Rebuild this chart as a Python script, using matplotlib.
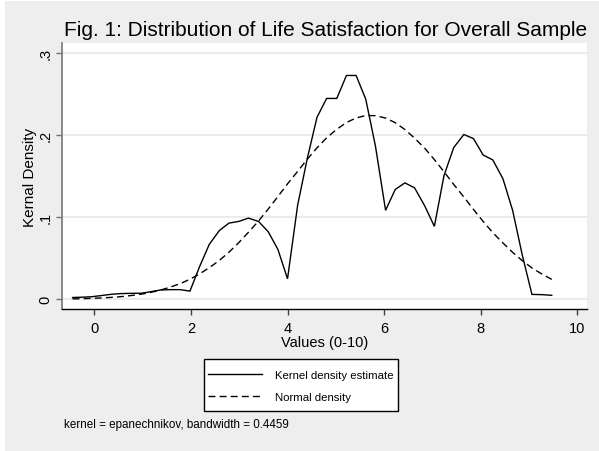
import matplotlib
matplotlib.use("Agg")
import matplotlib.pyplot as plt
from matplotlib.patches import Rectangle

plt.rcParams['font.family'] = ['Liberation Sans', 'DejaVu Sans']

title = "Fig. 1: Distribution of Life Satisfaction for Overall Sample"
xlabel = "Values (0-10)"
ylabel = "Kernal Density"
note = "kernel = epanechnikov, bandwidth = 0.4459"
legend_labels = ["Kernel density estimate", "Normal density"]
xticks = [0, 2, 4, 6, 8, 10]
xtick_labels = ["0", "2", "4", "6", "8", "10"]
yticks = [0, 0.1, 0.2, 0.3]
ytick_labels = ["0", ".1", ".2", ".3"]

# evaluation points
x_points = [-0.45, -0.25, -0.05, 0.16, 0.36, 0.56, 0.76, 0.97, 1.17, 1.37,
            1.57, 1.78, 1.98, 2.18, 2.38, 2.59, 2.79, 2.99, 3.19, 3.40,
            3.60, 3.80, 4.00, 4.21, 4.41, 4.61, 4.81, 5.02, 5.22, 5.42,
            5.62, 5.82, 6.03, 6.23, 6.43, 6.63, 6.84, 7.04, 7.24, 7.44,
            7.65, 7.85, 8.05, 8.25, 8.46, 8.66, 8.86, 9.06, 9.27, 9.47]

kernel_density = [0.0022, 0.0026, 0.0032, 0.0047, 0.0062, 0.0070, 0.0073, 0.0074, 0.0093, 0.0114,
                  0.0118, 0.0118, 0.0100, 0.0400, 0.0670, 0.0840, 0.0930, 0.0950, 0.0990, 0.0950,
                  0.0825, 0.0610, 0.0250, 0.1150, 0.1720, 0.2220, 0.2450, 0.2450, 0.2730, 0.2730,
                  0.2440, 0.1870, 0.1085, 0.1340, 0.1420, 0.1360, 0.1140, 0.0890, 0.1510, 0.1850,
                  0.2010, 0.1960, 0.1760, 0.1700, 0.1470, 0.1085, 0.0540, 0.0060, 0.0057, 0.0049]

normal_density = [0.0005, 0.0008, 0.0012, 0.0017, 0.0024, 0.0033, 0.0046, 0.0063, 0.0085, 0.0113,
                  0.0148, 0.0192, 0.0245, 0.0310, 0.0386, 0.0475, 0.0576, 0.0691, 0.0817, 0.0955,
                  0.1101, 0.1253, 0.1408, 0.1561, 0.1709, 0.1847, 0.1970, 0.2074, 0.2156, 0.2212,
                  0.2241, 0.2240, 0.2211, 0.2154, 0.2071, 0.1966, 0.1843, 0.1704, 0.1556, 0.1402,
                  0.1248, 0.1096, 0.0950, 0.0813, 0.0687, 0.0573, 0.0472, 0.0383, 0.0307, 0.0243]

W, H = 599, 452
fig = plt.figure(figsize=(W / 100, H / 100), dpi=100)
fig.patch.set_facecolor("white")
bg = Rectangle((5 / W, 0), 1 - 5 / W, 1 - 1.5 / H, transform=fig.transFigure,
               facecolor="#EEEEEE", edgecolor="none", zorder=-10)
fig.add_artist(bg)

ax = fig.add_axes([62 / W, 1 - 310 / H, (587 - 62) / W, (310 - 44) / H])
ax.set_zorder(1)
ax.set_facecolor("white")

ax.plot(x_points, kernel_density, color="black", lw=1.0, solid_joinstyle="miter",
        label=legend_labels[0], zorder=3)
ax.plot(x_points, normal_density, color="black", lw=1.0, dashes=(5, 3),
        label=legend_labels[1], zorder=3)

ax.set_xlim(-0.669, 10.2)
ax.set_ylim(-0.0118, 0.3126)

ax.set_xticks(xticks)
ax.set_xticklabels(xtick_labels, fontsize=10.5)
ax.set_yticks(yticks)
ax.set_yticklabels(ytick_labels, fontsize=10.5, rotation=90, va="center")

ax.yaxis.grid(True, color="#E6E6E6", lw=1.1)
ax.set_axisbelow(True)

for s in ["top", "right"]:
    ax.spines[s].set_visible(False)
ax.spines["left"].set_color("#808080")
ax.spines["left"].set_linewidth(1.3)
ax.spines["bottom"].set_color("black")
ax.spines["bottom"].set_linewidth(1.0)

ax.tick_params(axis="y", direction="out", length=4, width=1.0, color="#707070", pad=3)
ax.tick_params(axis="x", direction="out", length=4, width=1.0, color="#404040", pad=5)

ax.set_xlabel(xlabel, fontsize=10.5, labelpad=0)
ax.set_ylabel(ylabel, fontsize=11)
ax.yaxis.set_label_coords((30 - 62) / (587 - 62), 0.5)
ax.yaxis.label.set_va("center")

fig.text(326 / W, 1 - 30 / H, title, fontsize=15, ha="center", va="center")
fig.text(64 / W, 1 - 425 / H, note, fontsize=8.4, ha="left", va="center")

# legend frame drawn separately so padding can differ horizontally and vertically
frame = Rectangle((204 / W, 1 - 412 / H), (398 - 204) / W, (412 - 360) / H,
                  transform=fig.transFigure, facecolor="white", edgecolor="black",
                  lw=1.0, zorder=2)
fig.add_artist(frame)
leg = fig.legend(loc="center", bbox_to_anchor=(301 / W, 1 - 387 / H), fontsize=8.2,
                 handlelength=4.7, handletextpad=1.2, labelspacing=1.05, borderpad=0.45,
                 frameon=False)
leg.set_zorder(3)

fig.savefig("out.png", dpi=100, facecolor=fig.get_facecolor())
